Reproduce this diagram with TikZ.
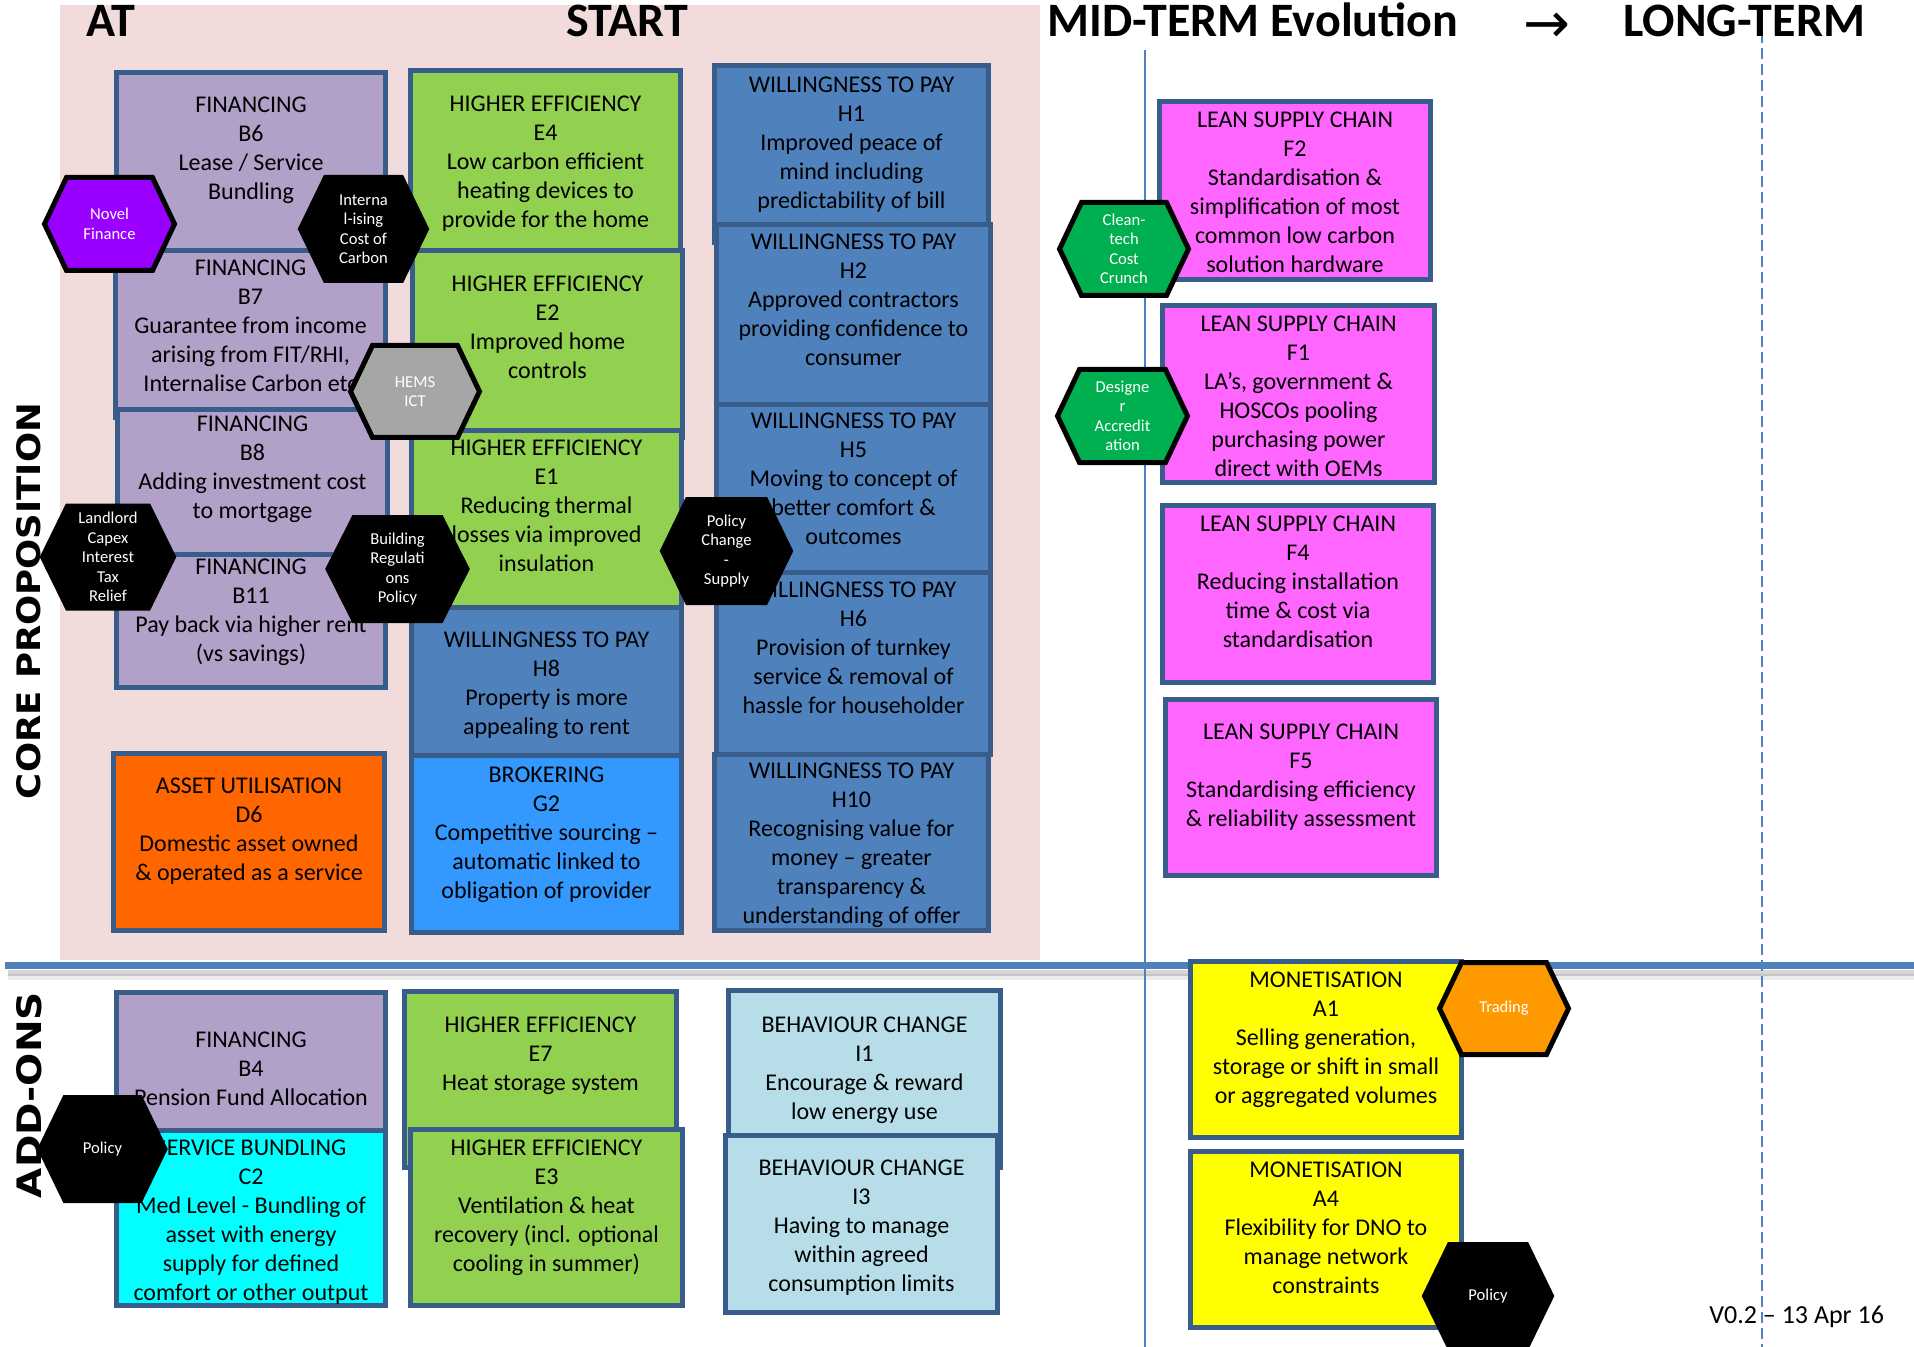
\documentclass[tikz,border=0pt]{standalone}
\usepackage{fontspec}
\usepackage{graphicx}
\setmainfont{Carlito}
\newfontfamily\sidefont{DejaVu Sans}

\definecolor{bgpink}{RGB}{242,220,219}
\definecolor{lineblue}{RGB}{79,129,189}
\definecolor{cardline}{RGB}{56,93,138}
\definecolor{finpurple}{RGB}{177,160,199}
\definecolor{effgreen}{RGB}{146,208,80}
\definecolor{paysteel}{RGB}{79,129,189}
\definecolor{brokerblue}{RGB}{51,153,255}
\definecolor{assetorange}{RGB}{255,102,0}
\definecolor{leanpink}{RGB}{255,102,255}
\definecolor{bundlecyan}{RGB}{0,255,255}
\definecolor{behavblue}{RGB}{183,222,232}
\definecolor{monyellow}{RGB}{255,255,0}
\definecolor{hexpurple}{RGB}{153,0,255}
\definecolor{hexgrey}{RGB}{166,166,166}
\definecolor{hexgreen}{RGB}{0,176,80}
\definecolor{hexorange}{RGB}{255,153,0}

\tikzset{
  card/.style={rectangle, draw=cardline, line width=2.5pt, inner sep=0pt},
  cardtext/.style={font=\fontsize{12}{14.5}\selectfont, align=center, inner sep=0pt,
    execute at begin node=\strut, execute at end node=\strut},
  hexshape/.style={draw=black, line width=2.5pt, line join=miter},
  hextext/.style={font=\fontsize{8.3}{9.75}\selectfont, align=center, text=white, inner sep=0pt},
  heading/.style={font=\fontsize{24}{28}\selectfont\bfseries, anchor=base west, inner sep=0pt},
}

% card: name, fill, x1, y1, x2, y2, text centre y, text
\newcommand\card[8]{%
  \node[card, fill=#2, minimum width={(#5-#3-5)*0.5pt}, minimum height={(#6-#4-5)*0.5pt}]
    (#1) at ({(#3+#5)/2},{(#4+#6)/2}) {};
  \node[cardtext] (#1-t) at ({(#3+#5)/2},{#7+6}) {#8};
}
% hexagon badge: name, fill, cx, cy, width, height, inset, text
\newcommand\hexa[8]{%
  \path[hexshape, fill=#2] ({#3-#5/2},#4) -- ({#3-#5/2+#7},{#4-#6/2}) -- ({#3+#5/2-#7},{#4-#6/2})
    -- ({#3+#5/2},#4) -- ({#3+#5/2-#7},{#4+#6/2}) -- ({#3-#5/2+#7},{#4+#6/2}) -- cycle;
  \node[hextext] (#1) at (#3,#4) {#8};
}

\begin{document}
\begin{tikzpicture}[x=0.5pt, y=-0.5pt]
\useasboundingbox (0,0) rectangle (1914,1347);

% start-phase background
\fill[bgpink] (60,5) rectangle (1040,960);

% divider between core proposition and add-ons, with its soft shadow
\draw[black, opacity=0.16, line width=3pt] (8,973) -- (1914,973);
\draw[black, opacity=0.08, line width=3pt] (8,977) -- (1914,977);
\draw[lineblue, line width=3.5pt] (5,965.5) -- (1914,965.5);

% phase boundaries
\draw[lineblue, line width=1pt] (1145,50) -- (1145,1347);
\draw[lineblue, line width=1pt, dash pattern=on 5.5pt off 2.5pt] (1762,32) -- (1762,1347);

% headings
\node[heading] (hd-at) at (86,37) {AT};
\node[heading] (hd-start) at (566,37) {START};
\node[heading] (hd-mid) at (1047,37) {MID-TERM Evolution};
\node[anchor=base west, inner sep=0pt, font=\sidefont\fontsize{28}{30}\selectfont] (hd-arrow) at (1523,43) {→};
\node[heading] (hd-long) at (1623,37) {LONG-TERM};

% core proposition, first column
\card{b6}{finpurple}{114}{70}{388}{262}{146.5}{FINANCING\\B6\\Lease / Service\\Bundling}
\card{b7}{finpurple}{113}{248}{388}{420}{324.5}{FINANCING\\B7\\Guarantee from income\\arising from FIT/RHI,\\Internalise Carbon etc}
\card{b8}{finpurple}{115}{407}{390}{565}{465.5}{FINANCING\\B8\\Adding investment cost\\to mortgage}
\card{b11}{finpurple}{114}{552}{388}{690}{608.5}{FINANCING\\B11\\Pay back via higher rent\\(vs savings)}
\card{d6}{assetorange}{111}{751}{387}{933}{827.5}{ASSET UTILISATION\\D6\\Domestic asset owned\\\& operated as a service}

% second column
\card{e4}{effgreen}{408}{68}{683}{262}{160}{HIGHER EFFICIENCY\\E4\\Low carbon efficient\\heating devices to\\provide for the home}
\card{e2}{effgreen}{410}{248}{685}{440}{325.5}{HIGHER EFFICIENCY\\E2\\Improved home\\controls}
\card{e1}{effgreen}{409}{428}{684}{620}{504.5}{HIGHER EFFICIENCY\\E1\\Reducing thermal\\losses via improved\\insulation}
\card{h8}{paysteel}{409}{605}{684}{766}{681.5}{WILLINGNESS TO PAY\\H8\\Property is more\\appealing to rent}
\card{g2}{brokerblue}{409}{753}{684}{935}{831}{BROKERING\\G2\\Competitive sourcing –\\automatic linked to\\obligation of provider}

% third column
\card{h1}{paysteel}{712}{63}{991}{245}{141}{WILLINGNESS TO PAY\\H1\\Improved peace of\\mind including\\predictability of bill}
\card{h2}{paysteel}{714}{222}{993}{410}{298}{WILLINGNESS TO PAY\\H2\\Approved contractors\\providing confidence to\\consumer}
\card{h5}{paysteel}{714}{402}{993}{580}{477}{WILLINGNESS TO PAY\\H5\\Moving to concept of\\better comfort \&\\outcomes}
\card{h6}{paysteel}{714}{570}{993}{757}{646.5}{WILLINGNESS TO PAY\\H6\\Provision of turnkey\\service \& removal of\\hassle for householder}
\card{h10}{paysteel}{712}{752}{991}{933}{842}{WILLINGNESS TO PAY\\H10\\Recognising value for\\money – greater\\transparency \&\\understanding of offer}

% mid-term column
\card{f2}{leanpink}{1157}{99}{1433}{282}{191}{LEAN SUPPLY CHAIN\\F2\\Standardisation \&\\simplification of most\\common low carbon\\solution hardware}
\card{f1}{leanpink}{1160}{303}{1437}{485}{395}{LEAN SUPPLY CHAIN\\F1\\LA’s, government \&\\HOSCOs pooling\\purchasing power\\direct with OEMs}
\card{f4}{leanpink}{1160}{503}{1436}{685}{580.5}{LEAN SUPPLY CHAIN\\F4\\Reducing installation\\time \& cost via\\standardisation}
\card{f5}{leanpink}{1163}{697}{1439}{878}{774}{LEAN SUPPLY CHAIN\\F5\\Standardising efficiency\\\& reliability assessment}

% add-ons
\card{b4}{finpurple}{114}{990}{388}{1140}{1067.5}{FINANCING\\B4\\Pension Fund Allocation}
\card{c2}{bundlecyan}{114}{1128}{388}{1308}{1219}{SERVICE BUNDLING\\C2\\Med Level - Bundling of\\asset with energy\\supply for defined\\comfort or other output}
\card{e7}{effgreen}{402}{989}{679}{1170}{1052}{HIGHER EFFICIENCY\\E7\\Heat storage system}
\card{e3}{effgreen}{408}{1127}{685}{1308}{1204}{HIGHER EFFICIENCY\\E3\\Ventilation \& heat\\recovery (incl. optional\\cooling in summer)}
\card{i1}{behavblue}{726}{988}{1003}{1170}{1066.5}{BEHAVIOUR CHANGE\\I1\\Encourage \& reward\\low energy use}
\card{i3}{behavblue}{723}{1133}{1000}{1315}{1224.5}{BEHAVIOUR CHANGE\\I3\\Having to manage\\within agreed\\consumption limits}
\card{a1}{monyellow}{1188}{959}{1464}{1140}{1036}{MONETISATION\\A1\\Selling generation,\\storage or shift in small\\or aggregated volumes}
\card{a4}{monyellow}{1188}{1149}{1464}{1330}{1226}{MONETISATION\\A4\\Flexibility for DNO to\\manage network\\constraints}

% side labels
\node[rotate=90, inner sep=0pt] (lbl-core) at (29,601)
  {\resizebox{198pt}{12pt}{\sidefont\bfseries CORE PROPOSITION}};
\node[rotate=90, inner sep=0pt] (lbl-addons) at (29.5,1095)
  {\resizebox{103pt}{12.5pt}{\sidefont\bfseries ADD-ONS}};

% version stamp
\node[anchor=base west, inner sep=0pt, font=\fontsize{13}{15.6}\selectfont] (ver) at (1709,1323) {V0.2 – 13 Apr 16};

% driver badges
\hexa{novel}{hexpurple}{109.5}{224}{130}{93}{22}{Novel\\Finance}
\hexa{carbon}{black}{363.5}{229}{126}{103}{25}{Interna\\l-ising\\Cost of\\Carbon}
\hexa{hems}{hexgrey}{415}{391.5}{129}{92}{22}{HEMS\\ICT}
\hexa{landlord}{black}{108}{557}{131}{102}{25}{Landlord\\Capex\\Interest\\Tax\\Relief}
\hexa{buildreg}{black}{397.5}{569}{139}{103}{26}{Building\\Regulati\\ons\\Policy}
\hexa{polchange}{black}{726.5}{551}{128}{103}{25}{Policy\\Change\\-\\Supply}
\hexa{cleantech}{hexgreen}{1124}{249}{129}{93}{22}{Clean-\\tech\\Cost\\Crunch}
\hexa{designer}{hexgreen}{1122.5}{416}{130}{93}{22}{Designe\\r\\Accredit\\ation}
\hexa{policyadd}{black}{102.5}{1149}{125}{103}{25}{Policy}
\hexa{trading}{hexorange}{1504}{1008.5}{129}{92}{22}{Trading}
\hexa{policymon}{black}{1488}{1296}{127}{103}{25}{Policy}
\end{tikzpicture}
\end{document}
